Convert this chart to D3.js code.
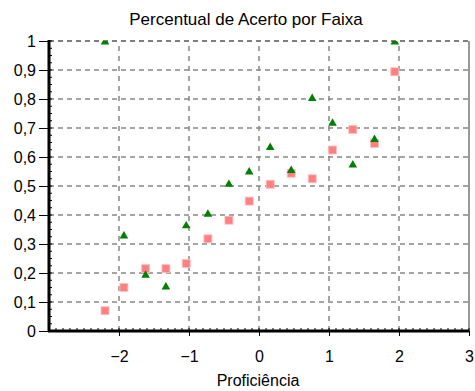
<!DOCTYPE html>
<html>
<head>
<meta charset="utf-8">
<script src="https://cdn.jsdelivr.net/npm/d3@7"></script>
<style>
  body { margin: 0; background: #fff; }
  text { font-family: "Liberation Sans", Arial, sans-serif; fill: #000; }
</style>
</head>
<body>
<div id="chart"></div>
<script>
// values
const proficiencia = [-2.2, -1.93, -1.62, -1.33, -1.04, -0.73, -0.43, -0.14, 0.16, 0.46, 0.76, 1.05, 1.34, 1.65, 1.94];
const serieQuadrado = [0.07, 0.15, 0.215, 0.215, 0.233, 0.318, 0.382, 0.448, 0.506, 0.544, 0.525, 0.624, 0.695, 0.647, 0.894];
const serieTriangulo = [1.0, 0.331, 0.196, 0.155, 0.366, 0.406, 0.509, 0.552, 0.636, 0.557, 0.805, 0.72, 0.576, 0.664, 1.0];
const xTicks = [-2, -1, 0, 1, 2, 3];
const yTicks = [0, 0.1, 0.2, 0.3, 0.4, 0.5, 0.6, 0.7, 0.8, 0.9, 1];
const titulo = "Percentual de Acerto por Faixa";
const eixoX = "Proficiência";

const width = 475, height = 391;
const svg = d3.select("#chart").append("svg")
  .attr("width", width)
  .attr("height", height);

const x = d3.scaleLinear().domain([-3, 3]).range([49, 469]);
const y = d3.scaleLinear().domain([0, 1]).range([331, 41]);

// marks are cut at the plot edges, like the top green ones
svg.append("clipPath").attr("id", "area")
  .append("rect")
  .attr("x", x(-3)).attr("y", y(1))
  .attr("width", x(3) - x(-3)).attr("height", y(0) - y(1));

// grid
const grid = svg.append("g");
grid.selectAll("line.gy")
  .data(yTicks.filter(d => d > 0))
  .enter().append("line")
  .attr("x1", x(-3)).attr("x2", x(3))
  .attr("y1", d => y(d)).attr("y2", d => y(d))
  .attr("stroke", d => d === 1 ? "#555" : "#888")
  .attr("stroke-width", 1.5)
  .attr("stroke-dasharray", "5,4");
grid.selectAll("line.gx")
  .data([-2, -1, 0, 1, 2])
  .enter().append("line")
  .attr("x1", d => x(d)).attr("x2", d => x(d))
  .attr("y1", y(0)).attr("y2", y(1))
  .attr("stroke", "#888")
  .attr("stroke-width", 1.5)
  .attr("stroke-dasharray", "5,5");
grid.append("line")
  .attr("x1", x(3)).attr("x2", x(3))
  .attr("y1", y(0)).attr("y2", y(1))
  .attr("stroke", "#777")
  .attr("stroke-width", 1.5);

// points
const pts = proficiencia.map((p, i) => ({ p: p, a: serieQuadrado[i], b: serieTriangulo[i] }));
const marks = svg.append("g").attr("clip-path", "url(#area)");

marks.append("g").selectAll("rect")
  .data(pts)
  .enter().append("rect")
  .attr("x", d => x(d.p) - 4)
  .attr("y", d => y(d.a) - 4)
  .attr("width", 8).attr("height", 8)
  .attr("fill", "#ff8080")
  .attr("stroke", "#ffc0c0")
  .attr("stroke-width", 0.8);

marks.append("g").selectAll("path")
  .data(pts)
  .enter().append("path")
  .attr("d", d3.symbol().type(d3.symbolTriangle).size(32))
  .attr("transform", d => "translate(" + x(d.p) + "," + (y(d.b) + 1) + ")")
  .attr("fill", "#008000");

// axes
const xAxis = d3.axisBottom(x).tickValues(xTicks).tickSize(5).tickFormat(d3.format("d"));
const gx = svg.append("g").attr("transform", "translate(0," + y(0) + ")").call(xAxis);
gx.select(".domain").remove();
gx.selectAll("text").attr("dy", 0).attr("y", 31).style("font-size", "16px");

const fmt = d => d === 0 || d === 1 ? String(d) : String(d).replace(".", ",");
const yAxis = d3.axisLeft(y).tickValues(yTicks).tickSize(10).tickPadding(3).tickFormat(fmt);
const gy = svg.append("g").attr("transform", "translate(" + x(-3) + ",0)").call(yAxis);
gy.select(".domain").remove();
gy.selectAll("text").style("font-size", "16px");

// minor ticks
svg.append("g").selectAll("line")
  .data(d3.range(-30, 31).map(d => d / 10))
  .enter().append("line")
  .attr("x1", d => x(d)).attr("x2", d => x(d))
  .attr("y1", y(0)).attr("y2", y(0) - 3)
  .attr("stroke", "#000");
svg.append("g").selectAll("line")
  .data(d3.range(0, 41).map(d => d / 40))
  .enter().append("line")
  .attr("x1", x(-3)).attr("x2", x(-3) + 3)
  .attr("y1", d => y(d)).attr("y2", d => y(d))
  .attr("stroke", "#000");

// thick axis lines
svg.append("line")
  .attr("x1", x(-3)).attr("x2", x(-3))
  .attr("y1", y(1) - 1).attr("y2", y(0) + 1)
  .attr("stroke", "#000").attr("stroke-width", 3);
svg.append("line")
  .attr("x1", x(-3) - 1).attr("x2", x(3))
  .attr("y1", y(0)).attr("y2", y(0))
  .attr("stroke", "#000").attr("stroke-width", 3);

// titles
svg.append("text")
  .attr("x", 246).attr("y", 25)
  .attr("text-anchor", "middle")
  .style("font-size", "17px")
  .text(titulo);
svg.append("text")
  .attr("x", 258).attr("y", 386)
  .attr("text-anchor", "middle")
  .style("font-size", "16px")
  .text(eixoX);
</script>
</body>
</html>
